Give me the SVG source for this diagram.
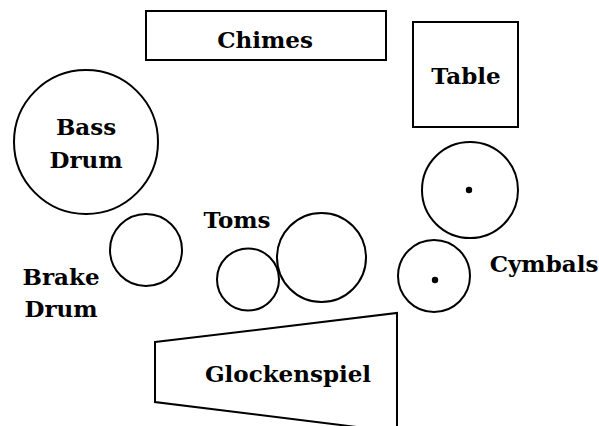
<svg xmlns="http://www.w3.org/2000/svg" width="599" height="426" viewBox="0 0 599 426">
<style>
.s{fill:none;stroke:#000;stroke-width:2}
.t{font-family:"DejaVu Serif","Liberation Serif",serif;font-weight:bold;font-size:23px;fill:#000;text-anchor:middle}
</style>
<rect width="599" height="426" fill="#fff"/>
<g id="chimes"><rect class="s" x="146" y="11" width="240" height="49"/><text class="t" x="265" y="48">Chimes</text></g>
<g id="table"><rect class="s" x="413" y="22" width="105" height="105"/><text class="t" x="466" y="84">Table</text></g>
<g id="cymbal-large"><circle class="s" cx="470" cy="190" r="48"/><circle cx="469" cy="190" r="3.2"/></g>
<g id="bass-drum"><circle class="s" cx="86" cy="142" r="72"/><text class="t" x="86" y="135">Bass</text><text class="t" x="86" y="168">Drum</text></g>
<g id="brake-drum"><circle class="s" cx="146" cy="250" r="36"/><text class="t" x="61" y="285">Brake</text><text class="t" x="61" y="317">Drum</text></g>
<g id="toms"><text class="t" x="237" y="228">Toms</text><circle class="s" cx="248" cy="279.5" r="31"/><circle class="s" cx="321.5" cy="257.5" r="44.5"/></g>
<g id="cymbals"><circle class="s" cx="434" cy="276" r="36"/><circle cx="435" cy="280" r="3.2"/><text class="t" x="544" y="272">Cymbals</text></g>
<g id="glockenspiel"><polygon class="s" points="155,342 397,313 397,432 155,402"/><text class="t" x="288" y="382">Glockenspiel</text></g>
</svg>
